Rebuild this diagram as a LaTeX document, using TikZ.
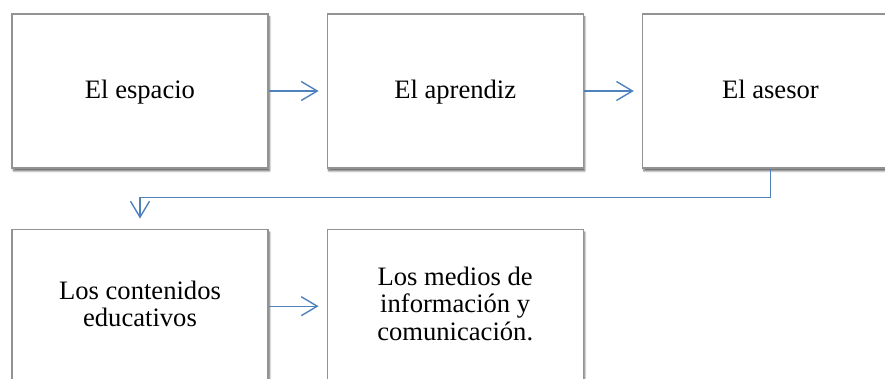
\documentclass[tikz,border=0pt]{standalone}
\usepackage{fontspec}
\setmainfont{Liberation Serif}
\usetikzlibrary{positioning}
\usetikzlibrary{arrows.meta}
\usetikzlibrary{shadows.blur}
\definecolor{flowblue}{HTML}{4F81BD}
\newcommand{\boxstrut}{\rule[-5pt]{0pt}{25pt}}
\tikzset{stepbox/.style={
          draw=gray!85, line width=1.2pt, fill=white,
          minimum width=256pt, minimum height=154pt,
          align=center, inner sep=0pt,
          font=\fontsize{26.6}{27.5}\selectfont,
          execute at begin node=\boxstrut, % same height for every first line
          execute at end node=\boxstrut,   % and same depth for every last one
          blur shadow={shadow xshift=1.5pt, shadow yshift=-3pt, shadow blur steps=6, shadow opacity=60}
          },
        flow/.style={
          draw=flowblue, line width=1.4pt,
          -{Straight Barb[length=16pt, width=19pt, line width=1.4pt]}
          },
}
\begin{document}
\begin{tikzpicture}[x=1pt, y=1pt]
      \useasboundingbox (0,0) rectangle (885,378);
      % FIRST ROW
      \node[stepbox] (espacio) at (140,287) {El espacio};
      \node[stepbox, right=58pt of espacio] (aprendiz) {El aprendiz};
      \node[stepbox, right=58pt of aprendiz] (asesor) {El asesor};

      % SECOND ROW
      \node[stepbox, below=60pt of espacio] (contenidos) {Los contenidos\\educativos};
      \node[stepbox, right=58pt of contenidos] (medios) {Los medios de\\informaci\'on y\\comunicaci\'on.};

      % ARROWS
      \draw[flow, shorten >=8pt] (espacio) -- (aprendiz);
      \draw[flow, shorten >=8pt] (aprendiz) -- (asesor);
      \draw[flow, shorten >=8pt] (contenidos) -- (medios);
      % back to the second row
      \draw[flow] (asesor.south) -- ++(0,-29) -| ([yshift=10pt]contenidos.north);
\end{tikzpicture}
\end{document}
